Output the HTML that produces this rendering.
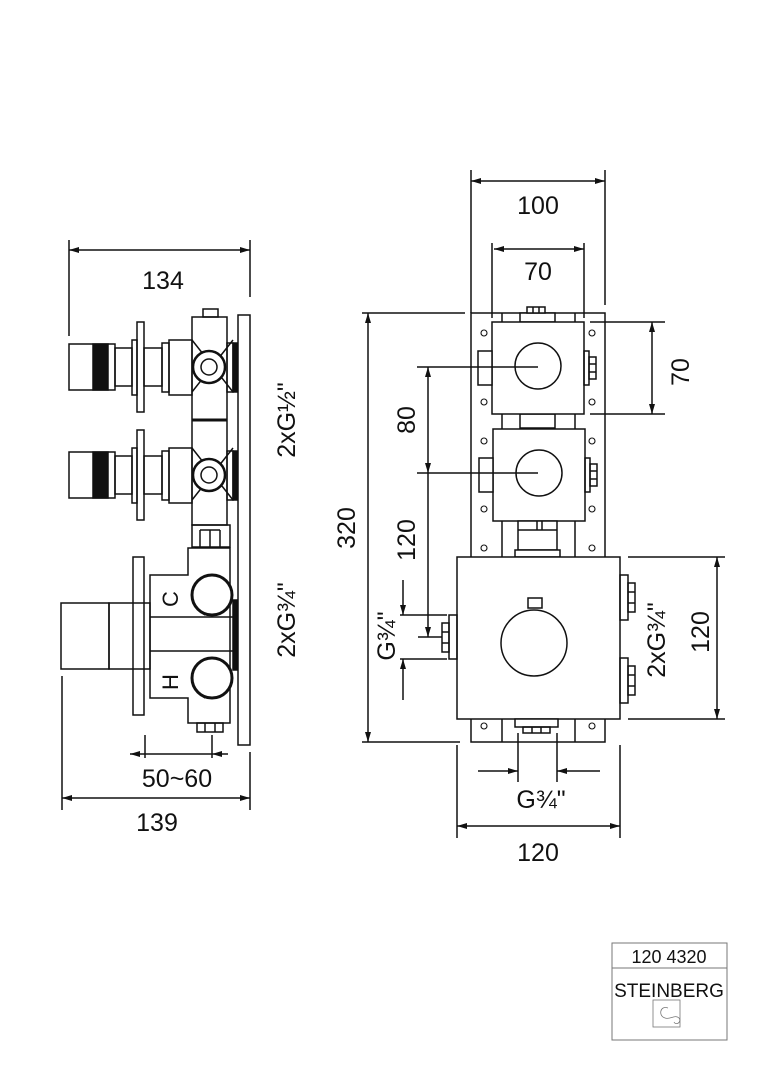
<!DOCTYPE html>
<html><head><meta charset="utf-8"><style>
html,body{margin:0;padding:0;background:#fff}
svg{display:block}
text{font-family:"Liberation Sans",sans-serif;fill:#111}
</style></head><body>
<svg width="764" height="1080" viewBox="0 0 764 1080" xmlns="http://www.w3.org/2000/svg">
<defs>
<marker id="a" viewBox="0 0 10 6" refX="10" refY="3" markerWidth="11" markerHeight="6" orient="auto-start-reverse" markerUnits="userSpaceOnUse"><path d="M0,0 L10,3 L0,6 z" fill="#111"/></marker>
</defs>
<g fill="none" stroke="#111" stroke-width="1.5">
<!-- LEFT VIEW -->
<rect x="238" y="315" width="12" height="430"/>
<rect x="203" y="309" width="15" height="8"/>
<rect x="192" y="317" width="35" height="208"/>
<line x1="192" y1="420" x2="227" y2="420" stroke-width="3"/>
<g id="v1">
<path d="M192,340 L233,392 M192,392 L233,340"/>
<rect x="227" y="343" width="6" height="49"/>
<rect x="233" y="343" width="4" height="49" fill="#111"/>
<circle cx="209" cy="367" r="16" fill="#fff" stroke-width="2.5"/>
<circle cx="209" cy="367" r="8"/>
<rect x="169" y="340" width="23" height="55"/>
<rect x="162" y="343" width="7" height="49"/>
<rect x="144" y="348" width="18" height="38"/>
<rect x="137" y="322" width="7" height="90"/>
<rect x="132" y="340" width="5" height="55"/>
<rect x="115" y="348" width="17" height="38"/>
<rect x="69" y="344" width="46" height="46"/>
<rect x="93" y="344" width="15" height="46" fill="#111"/>
</g>
<use href="#v1" y="108"/>
<path d="M192,525 h38 v22 h-38 z M200,530 v17 M210,530 v17 M220,530 v17 M200,530 h20"/>
<path d="M188,548 H230 V723 H188 V698 H150 V575 H188 Z"/>
<line x1="150" y1="617" x2="233" y2="617"/>
<line x1="150" y1="651" x2="233" y2="651"/>
<rect x="233" y="600" width="4" height="70" fill="#111"/>
<path d="M215,575 a22,22 0 0 0 -10,40" />
<path d="M215,658 a22,22 0 0 0 -10,40" />
<circle cx="212" cy="595" r="20" stroke-width="3" fill="#fff"/>
<circle cx="212" cy="678" r="20" stroke-width="3" fill="#fff"/>
<rect x="133" y="557" width="11" height="158"/>
<rect x="61" y="603" width="48" height="66"/>
<rect x="109" y="603" width="41" height="66"/>
<rect x="197" y="723" width="26" height="9"/>
<path d="M205,723 v9 M215,723 v9"/>
<line x1="69" y1="240" x2="69" y2="336"/>
<line x1="250" y1="240" x2="250" y2="297"/>
<line x1="69" y1="250" x2="250" y2="250" marker-start="url(#a)" marker-end="url(#a)"/>
<line x1="62" y1="676" x2="62" y2="810"/>
<line x1="250" y1="752" x2="250" y2="810"/>
<line x1="62" y1="798" x2="250" y2="798" marker-start="url(#a)" marker-end="url(#a)"/>
<line x1="145" y1="735" x2="145" y2="758"/>
<line x1="212" y1="735" x2="212" y2="758"/>
<line x1="130" y1="754" x2="145" y2="754" marker-start="url(#a)"/>
<line x1="145" y1="754" x2="212" y2="754"/>
<line x1="212" y1="754" x2="228" y2="754" marker-start="url(#a)"/>

<!-- RIGHT VIEW -->
<rect x="471" y="313" width="134" height="429"/>
<line x1="502" y1="313" x2="502" y2="742"/>
<line x1="575" y1="313" x2="575" y2="742"/>
<rect x="520" y="313" width="35" height="9" fill="#fff"/>
<rect x="527" y="307" width="18" height="6" fill="#fff"/>
<path d="M533,307v6 M539,307v6"/>
<rect x="520" y="414" width="35" height="14" fill="#fff"/>
<g id="sq">
<rect x="492" y="322" width="92" height="92" fill="#fff"/>
<circle cx="538" cy="366" r="23"/>
<rect x="478" y="351" width="14" height="34" fill="#fff"/>
<rect x="584" y="351" width="5" height="34"/>
<rect x="589" y="357" width="7" height="22"/>
<path d="M589,364h7 M589,372h7"/>
</g>
<use href="#sq" x="1" y="107"/>
<g stroke-width="1.1">
<circle cx="484" cy="333" r="3"/><circle cx="592" cy="333" r="3"/>
<circle cx="484" cy="402" r="3"/><circle cx="592" cy="402" r="3"/>
<circle cx="484" cy="441" r="3"/><circle cx="592" cy="441" r="3"/>
<circle cx="484" cy="509" r="3"/><circle cx="592" cy="509" r="3"/>
<circle cx="484" cy="548" r="3"/><circle cx="592" cy="548" r="3"/>
<circle cx="484" cy="726" r="3"/><circle cx="592" cy="726" r="3"/>
</g>
<rect x="518" y="521" width="39" height="29" fill="#fff"/>
<path d="M518,530h39 M537,521v9 M542,521v9"/>
<rect x="515" y="550" width="45" height="7" fill="#fff"/>
<rect x="457" y="557" width="163" height="162" fill="#fff"/>
<circle cx="534" cy="643" r="33"/>
<rect x="528" y="598" width="14" height="10"/>
<rect x="449" y="615" width="8" height="44"/>
<rect x="442" y="623" width="7" height="29"/>
<path d="M442,632h7 M442,643h7"/>
<rect x="620" y="575" width="8" height="45"/>
<rect x="628" y="583" width="7" height="29"/>
<path d="M628,592h7 M628,603h7"/>
<rect x="620" y="658" width="8" height="45"/>
<rect x="628" y="666" width="7" height="29"/>
<path d="M628,675h7 M628,686h7"/>
<rect x="515" y="719" width="43" height="8" fill="#fff"/>
<rect x="523" y="727" width="27" height="6"/>
<path d="M532,727v6 M541,727v6"/>
<line x1="471" y1="170" x2="471" y2="313"/>
<line x1="605" y1="170" x2="605" y2="305"/>
<line x1="471" y1="181" x2="605" y2="181" marker-start="url(#a)" marker-end="url(#a)"/>
<line x1="492" y1="243" x2="492" y2="318"/>
<line x1="584" y1="243" x2="584" y2="318"/>
<line x1="494" y1="249" x2="584" y2="249" marker-start="url(#a)" marker-end="url(#a)"/>
<line x1="362" y1="313" x2="465" y2="313"/>
<line x1="362" y1="742" x2="460" y2="742"/>
<line x1="368" y1="313" x2="368" y2="742" marker-start="url(#a)" marker-end="url(#a)"/>
<line x1="590" y1="322" x2="665" y2="322"/>
<line x1="590" y1="414" x2="665" y2="414"/>
<line x1="652" y1="322" x2="652" y2="414" marker-start="url(#a)" marker-end="url(#a)"/>
<line x1="417" y1="367" x2="538" y2="367"/>
<line x1="417" y1="473" x2="538" y2="473"/>
<line x1="428" y1="367" x2="428" y2="473" marker-start="url(#a)" marker-end="url(#a)"/>
<line x1="428" y1="473" x2="428" y2="637" marker-end="url(#a)"/>
<line x1="418" y1="637" x2="442" y2="637"/>
<line x1="400" y1="615" x2="447" y2="615"/>
<line x1="400" y1="659" x2="447" y2="659"/>
<line x1="403" y1="580" x2="403" y2="615" marker-end="url(#a)"/>
<line x1="403" y1="700" x2="403" y2="659" marker-end="url(#a)"/>
<line x1="628" y1="557" x2="725" y2="557"/>
<line x1="628" y1="719" x2="725" y2="719"/>
<line x1="717" y1="557" x2="717" y2="719" marker-start="url(#a)" marker-end="url(#a)"/>
<line x1="518" y1="733" x2="518" y2="782"/>
<line x1="557" y1="733" x2="557" y2="782"/>
<line x1="478" y1="771" x2="518" y2="771" marker-end="url(#a)"/>
<line x1="600" y1="771" x2="557" y2="771" marker-end="url(#a)"/>
<line x1="457" y1="745" x2="457" y2="838"/>
<line x1="620" y1="745" x2="620" y2="838"/>
<line x1="457" y1="826" x2="620" y2="826" marker-start="url(#a)" marker-end="url(#a)"/>
<rect x="612" y="943" width="115" height="97" stroke-width="1" stroke="#777"/>
<line x1="612" y1="968" x2="727" y2="968" stroke-width="1" stroke="#777"/>
<rect x="653" y="1000" width="27" height="27" stroke-width="0.8" stroke="#777"/>
<path d="M668,1008 c-8,-3 -10,8 -3,10 c5,2 10,-4 14,0 c3,4 -3,8 -5,4" stroke-width="0.8" stroke="#777"/>
</g>
<g font-size="25" text-anchor="middle">
<text x="163" y="289">134</text>
<text x="157" y="831">139</text>
<text x="177" y="787">50~60</text>
<text x="538" y="214">100</text>
<text x="538" y="280">70</text>
<text x="538" y="861">120</text>
<text x="541" y="808">G¾"</text>
<text transform="translate(295,420) rotate(-90)">2xG½"</text>
<text transform="translate(295,620) rotate(-90)">2xG¾"</text>
<text transform="translate(355,528) rotate(-90)">320</text>
<text transform="translate(415,420) rotate(-90)">80</text>
<text transform="translate(415,540) rotate(-90)">120</text>
<text transform="translate(395,636) rotate(-90)">G¾"</text>
<text transform="translate(689,372) rotate(-90)">70</text>
<text transform="translate(665,640) rotate(-90)">2xG¾"</text>
<text transform="translate(709,632) rotate(-90)">120</text>
<text x="170" y="607" transform="rotate(-90 170 599)" font-size="22">C</text>
<text x="170" y="690" transform="rotate(-90 170 682)" font-size="22">H</text>
<text x="669" y="963" font-size="18">120 4320</text>
<text x="669" y="997" font-size="19" fill="#333">STEINBERG</text>
</g>
</svg>
</body></html>
